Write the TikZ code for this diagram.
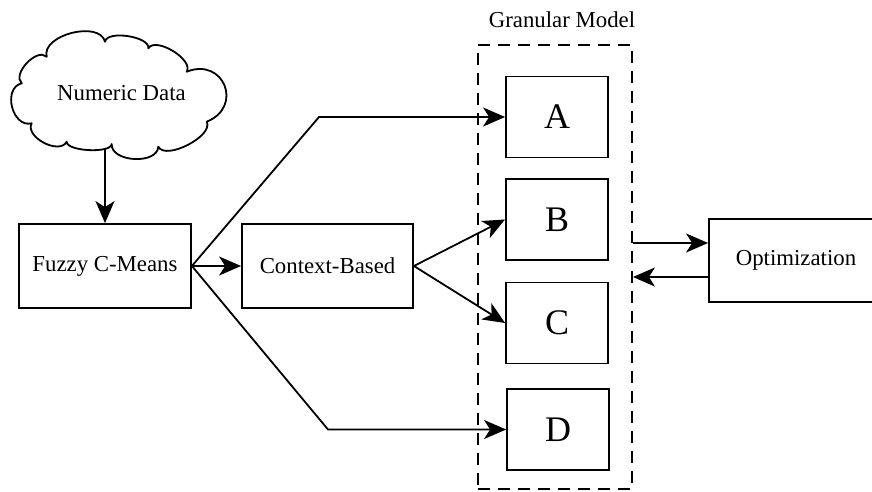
\documentclass[tikz,border=0pt]{standalone}
\usepackage{fontspec}
\setmainfont{Liberation Serif}
\usetikzlibrary{arrows.meta}
\newcommand\lblfont{\fontsize{22.8}{27}\selectfont}
\newcommand\letfont{\fontsize{36}{40}\selectfont}
\begin{document}
\begin{tikzpicture}[x=1pt,y=-1pt,
  ln/.style={line width=1.8pt},
  box/.style={draw, line width=1.8pt, minimum width=172pt, minimum height=84pt, inner sep=0pt, font=\lblfont},
  lbox/.style={box, minimum width=102pt, minimum height=81pt, font=\letfont},
  arr/.style={line width=1.8pt, -{Stealth[length=22pt,width=19pt,inset=6pt]}},
  puff/.style={bend left=90, looseness=#1}]
\useasboundingbox (0,0) rectangle (872,492);
% cloud
\draw[ln, line join=round] (21.7,83.3)
  to[puff=0.95] (46.7,56.7)
  to[puff=0.95] (105,41.7)
  to[puff=0.7] (148.3,48.3)
  to[puff=0.8] (186.7,71.7)
  to[puff=1.9] (206.7,121.7)
  to[puff=0.75] (158.3,146.7)
  to[puff=1.0] (111.7,144)
  to[puff=0.55] (66.7,141.7)
  to[puff=1.0] (31.7,123.3)
  to[puff=1.25] (21.7,83.3) -- cycle;
\node[font=\lblfont] (nd) at (121.5,93) {Numeric Data};
\coordinate (cb) at (105,148);
% boxes
\node[box] (fcm) at (105,266) {Fuzzy C-Means};
\node[box, minimum width=171pt] (ctx) at (327.5,266) {Context-Based};
\node[draw, line width=1.8pt, dash pattern=on 12pt off 8pt, minimum width=154pt, minimum height=444pt, inner sep=0pt] (gm) at (555,267) {};
\node[font=\lblfont] (gml) at (562,20) {Granular Model};
\node[lbox] (A) at (557,117) {A};
\node[lbox] (B) at (557,219.5) {B};
\node[lbox] (C) at (557,323) {C};
\node[lbox] (D) at (558,429.5) {D};
\node[box, minimum width=174pt, minimum height=83pt] (opt) at (796,260.5) {Optimization};
% connectors
\draw[arr] (cb) -- (fcm.north);
\draw[arr] (fcm.east) -- (ctx.west);
\draw[arr, line join=round] (fcm.east) -- (319,0 |- A.west) -- (A.west);
\draw[arr, line join=round] (fcm.east) -- (328,0 |- D.west) -- (D.west);
\draw[arr] (ctx.east) -- (B.west);
\draw[arr] (ctx.east) -- (C.west);
\coordinate (o1) at ([yshift=17.5pt]opt.west);
\coordinate (o2) at ([yshift=-16.5pt]opt.west);
\draw[arr] (o1 -| gm.east) -- (o1);
\draw[arr] (o2) -- (o2 -| gm.east);
\end{tikzpicture}
\end{document}
